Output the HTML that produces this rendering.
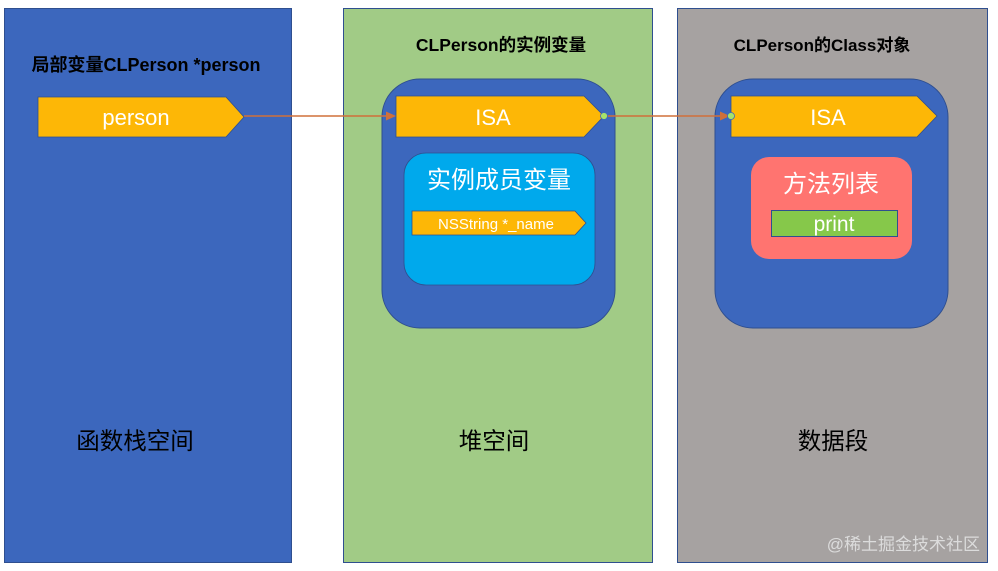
<!DOCTYPE html>
<html><head><meta charset="utf-8"><style>
html,body{margin:0;padding:0;background:#fff;}
svg{display:block;}
text{font-family:"Liberation Sans","Noto Sans CJK SC",sans-serif;}
</style></head><body>
<svg width="998" height="571" viewBox="0 0 998 571">
<rect x="4.5" y="8.5" width="287" height="554" fill="#3c67bd" stroke="#2f4f8f"/>
<rect x="343.5" y="8.5" width="309" height="554" fill="#a1cb86" stroke="#2f4f8f"/>
<rect x="677.5" y="8.5" width="310" height="554" fill="#a6a2a1" stroke="#2f4f8f"/>

<text x="146" y="71" font-size="18" font-weight="bold" text-anchor="middle" fill="#000">局部变量CLPerson *person</text>
<text x="501" y="51" font-size="17.5" font-weight="bold" text-anchor="middle" fill="#000">CLPerson的实例变量</text>
<text x="822" y="51" font-size="17" font-weight="bold" text-anchor="middle" fill="#000">CLPerson的Class对象</text>

<polygon points="38,97 226,97 244,117 226,137 38,137" fill="#fdb706" stroke="#2f4f8f" stroke-width="0.8"/>
<text x="136" y="125" font-size="22" text-anchor="middle" fill="#fff">person</text>

<rect x="382" y="79" width="233" height="249" rx="38" fill="#3c67bd" stroke="#2f4f8f"/>
<polygon points="396,96 584,96 604,116 584,137 396,137" fill="#fdb706" stroke="#2f4f8f" stroke-width="0.8"/>
<text x="493" y="125" font-size="22" text-anchor="middle" fill="#fff">ISA</text>
<rect x="404" y="153" width="191" height="132" rx="22" fill="#00a9ec" stroke="#2f4f8f" stroke-width="0.8"/>
<text x="499" y="188" font-size="24" text-anchor="middle" fill="#fff">实例成员变量</text>
<polygon points="412,211 575,211 586,223 575,235 412,235" fill="#fdb706" stroke="#2f4f8f" stroke-width="0.8"/>
<text x="496" y="229" font-size="15" text-anchor="middle" fill="#fff">NSString *_name</text>

<rect x="715" y="79" width="233" height="249" rx="38" fill="#3c67bd" stroke="#2f4f8f"/>
<polygon points="731,96 917,96 937,116 917,137 731,137" fill="#fdb706" stroke="#2f4f8f" stroke-width="0.8"/>
<text x="828" y="125" font-size="22" text-anchor="middle" fill="#fff">ISA</text>
<rect x="751" y="157" width="161" height="102" rx="18" fill="#ff7470"/>
<text x="831" y="192" font-size="24" text-anchor="middle" fill="#fff">方法列表</text>
<rect x="771.5" y="210.5" width="126" height="26" fill="#86c84a" stroke="#2f4f8f"/>
<text x="834" y="231" font-size="21" text-anchor="middle" fill="#fff">print</text>

<line x1="244" y1="116" x2="390" y2="116" stroke="#d0703a" stroke-width="1.5"/>
<polygon points="396,116 386,111.5 386,120.5" fill="#d0703a"/>
<line x1="604" y1="116" x2="724" y2="116" stroke="#d0703a" stroke-width="1.5"/>
<polygon points="730,116 720,111.5 720,120.5" fill="#d0703a"/>
<circle cx="604" cy="116" r="3.5" fill="#a6e36a" stroke="#3c67bd" stroke-width="0.8"/>
<circle cx="731" cy="116" r="3.5" fill="#a6e36a" stroke="#3c67bd" stroke-width="0.8"/>

<text x="135" y="449" font-size="23.5" text-anchor="middle" fill="#000">函数栈空间</text>
<text x="494" y="449" font-size="23.5" text-anchor="middle" fill="#000">堆空间</text>
<text x="833" y="449" font-size="23.5" text-anchor="middle" fill="#000">数据段</text>
<text x="980" y="550" font-size="17" text-anchor="end" fill="#dcdcdc">@稀土掘金技术社区</text>
</svg>
</body></html>
